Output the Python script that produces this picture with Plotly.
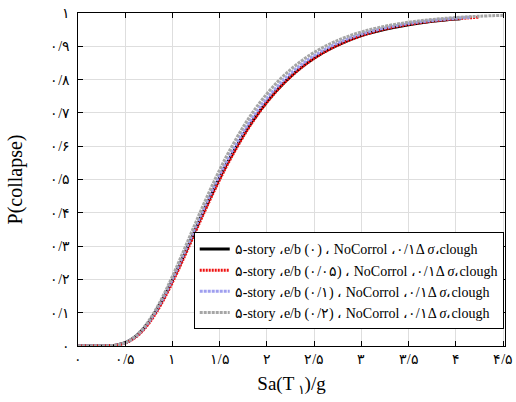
import plotly.graph_objects as go

# x values (Sa(T1)/g) at which the curves were read
x_black = [0, 0.2, 0.3, 0.4, 0.5, 0.6, 0.7, 0.8, 0.9, 1.0, 1.1, 1.2, 1.3, 1.4, 1.5, 1.6,
           1.8, 2.0, 2.2, 2.4, 2.6, 2.8, 3.0, 3.25, 3.5, 3.75, 4.0, 4.05]
y_black = [0, 0.0, 0.0003, 0.0026, 0.0101, 0.0265, 0.054, 0.093, 0.142, 0.198, 0.259, 0.3226,
           0.386, 0.447, 0.506, 0.560, 0.656, 0.734, 0.796, 0.845, 0.882, 0.910, 0.932, 0.951,
           0.965, 0.975, 0.982, 0.983]

x_red = [0, 0.2, 0.3, 0.4, 0.5, 0.6, 0.7, 0.8, 0.9, 1.0, 1.1, 1.2, 1.3, 1.4, 1.5, 1.6,
         1.8, 2.0, 2.2, 2.4, 2.6, 2.8, 3.0, 3.25, 3.5, 3.75, 4.0, 4.25]
y_red = [0, 0.0, 0.0003, 0.0022, 0.0091, 0.0244, 0.0506, 0.0882, 0.136, 0.1916, 0.2524, 0.3157,
         0.379, 0.441, 0.5, 0.555, 0.6525, 0.732, 0.795, 0.844, 0.8816, 0.910, 0.932, 0.952,
         0.9658, 0.9756, 0.9825, 0.9875]

x_blue = [0, 0.2, 0.3, 0.4, 0.5, 0.6, 0.7, 0.8, 0.9, 1.0, 1.1, 1.2, 1.3, 1.4, 1.5, 1.6,
          1.8, 2.0, 2.2, 2.4, 2.6, 2.8, 3.0, 3.25, 3.5, 3.75, 4.0, 4.15]
y_blue = [0, 0.0, 0.0003, 0.0025, 0.010, 0.0265, 0.0545, 0.094, 0.144, 0.2016, 0.264, 0.3286,
          0.393, 0.4553, 0.5144, 0.569, 0.6657, 0.7436, 0.805, 0.8524, 0.8886, 0.916, 0.9366,
          0.9553, 0.9684, 0.9776, 0.984, 0.987]

x_gray = [0, 0.2, 0.3, 0.4, 0.5, 0.6, 0.7, 0.8, 0.9, 1.0, 1.1, 1.2, 1.3, 1.4, 1.5, 1.6,
          1.8, 2.0, 2.2, 2.4, 2.6, 2.8, 3.0, 3.25, 3.5, 3.75, 4.0, 4.25, 4.5]
y_gray = [0, 0.0, 0.0003, 0.0026, 0.0103, 0.0275, 0.0567, 0.098, 0.150, 0.2096, 0.274, 0.3403,
          0.406, 0.4696, 0.5294, 0.5847, 0.681, 0.7577, 0.8176, 0.8633, 0.8978, 0.9237, 0.943,
          0.9603, 0.9723, 0.9806, 0.9863, 0.9903, 0.9931]

names = [
    "۵-story ،e/b (۰) ، NoCorrol ،۰/۱Δ <i>σ</i>،clough",
    "۵-story ،e/b (۰/۰۵) ، NoCorrol ،۰/۱Δ <i>σ</i>،clough",
    "۵-story ،e/b (۰/۱) ، NoCorrol ،۰/۱Δ <i>σ</i>،clough",
    "۵-story ،e/b (۰/۲) ، NoCorrol ،۰/۱Δ <i>σ</i>،clough",
]

x_tickvals = [0, 0.5, 1, 1.5, 2, 2.5, 3, 3.5, 4, 4.5]
x_ticktext = ["۰", "۰/۵", "۱", "۱/۵", "۲", "۲/۵", "۳", "۳/۵", "۴", "۴/۵"]
y_tickvals = [0, 0.1, 0.2, 0.3, 0.4, 0.5, 0.6, 0.7, 0.8, 0.9, 1]
y_ticktext = ["۰", "۰/۱", "۰/۲", "۰/۳", "۰/۴", "۰/۵", "۰/۶", "۰/۷", "۰/۸", "۰/۹", "۱"]

font_family = "Liberation Serif, DejaVu Serif, serif"

fig = go.Figure()
fig.add_trace(go.Scatter(x=x_black, y=y_black, mode="lines", name=names[0], line_shape="spline",
                         line=dict(color="black", width=3)))
fig.add_trace(go.Scatter(x=x_red, y=y_red, mode="lines", name=names[1], line_shape="spline",
                         line=dict(color="#ee1111", width=3, dash="2px,1px")))
fig.add_trace(go.Scatter(x=x_blue, y=y_blue, mode="lines", name=names[2], line_shape="spline",
                         line=dict(color="#9f9fef", width=3, dash="3px,1px")))
fig.add_trace(go.Scatter(x=x_gray, y=y_gray, mode="lines", name=names[3], line_shape="spline",
                         line=dict(color="#a6a6a6", width=3, dash="3px,1px")))

axis_common = dict(
    showline=True, linecolor="black", linewidth=1, mirror="ticks",
    ticks="inside", ticklen=5, tickcolor="black",
    showgrid=True, gridcolor="#dedede", gridwidth=1, zeroline=False,
    tickfont=dict(family=font_family, size=14, color="black"),
    ticklabeloverflow="allow",
)

fig.update_layout(
    width=516, height=402,
    margin=dict(l=78, r=3, t=13, b=56),
    paper_bgcolor="white", plot_bgcolor="white",
    font=dict(family=font_family, color="black"),
    xaxis=dict(range=[0, 4.52], tickvals=x_tickvals, ticktext=x_ticktext,
               title=dict(text="Sa(T<sub> ۱</sub>)/g", font=dict(size=19), standoff=10),
               **axis_common),
    yaxis=dict(range=[0, 1], tickvals=y_tickvals, ticktext=y_ticktext,
               ticklabelstandoff=4,
               title=dict(text="P(collapse)", font=dict(size=20), standoff=22),
               **axis_common),
    legend=dict(x=0.997, y=0.05, xanchor="right", yanchor="bottom",
                bgcolor="white", bordercolor="black", borderwidth=1,
                font=dict(family=font_family, size=14, color="black"),
                tracegroupgap=0),
    showlegend=True,
)

fig.write_html("out.html", config={"displayModeBar": False},
               post_script="document.body.style.margin='0';")
